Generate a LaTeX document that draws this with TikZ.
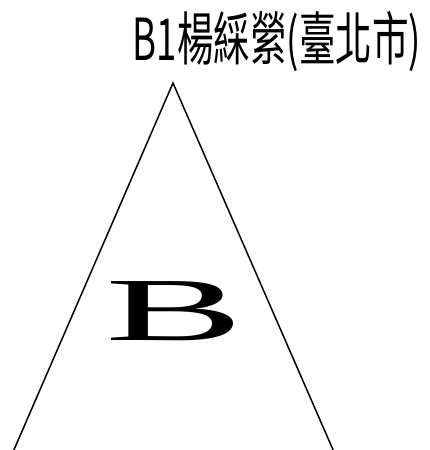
\documentclass[tikz,border=0pt]{standalone}
\usepackage{fontspec}
\setmainfont{Liberation Serif}
\newfontfamily\cjk{Noto Sans CJK TC}
\begin{document}
\begin{tikzpicture}[x=1pt,y=-1pt,
  edge/.style={line width=1.5pt, line cap=round}]
\useasboundingbox (0,0) rectangle (429,450);
\coordinate (apex) at (173,83);
\coordinate (bl) at (13,452);
\coordinate (br) at (334,452);
\draw[edge] (bl) -- (apex) -- (br);
\node[inner sep=0, anchor=center] (title) at (277,42)
  {\scalebox{0.63}[1]{\cjk\fontsize{58}{58}\selectfont B1楊綵縈(臺北市)}};
\node[inner sep=0, anchor=center] (letter) at (175,311)
  {\scalebox{2.3}[1]{\fontsize{90}{90}\selectfont B}};
\end{tikzpicture}
\end{document}
